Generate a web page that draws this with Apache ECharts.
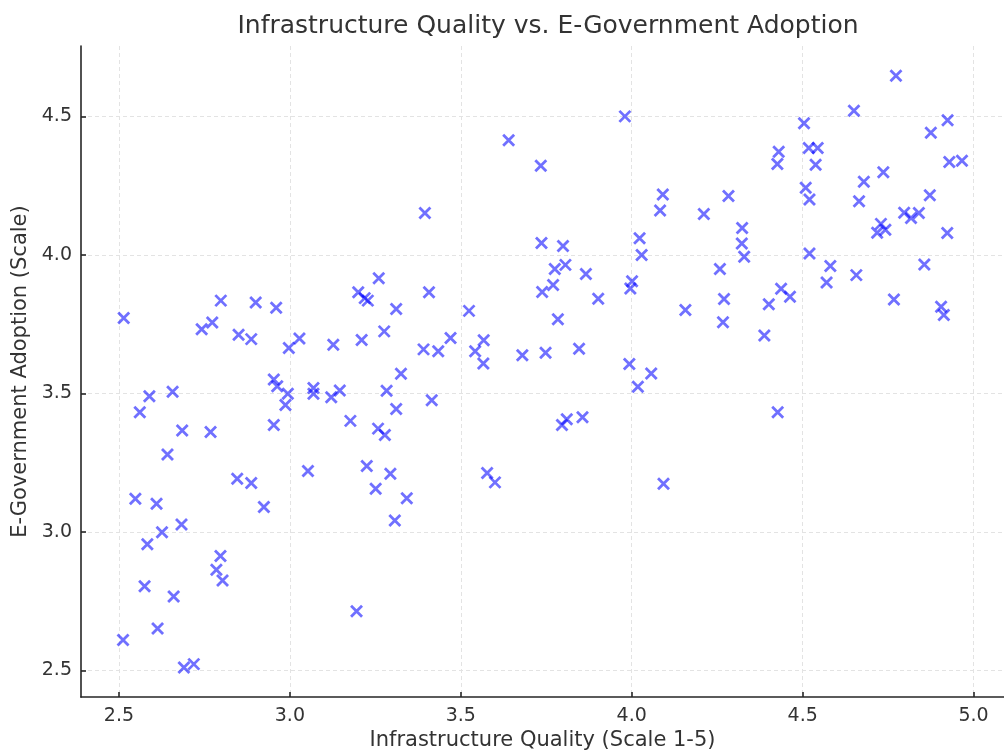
<!DOCTYPE html>
<html>
<head>
<meta charset="utf-8">
<title>Infrastructure Quality vs. E-Government Adoption</title>
<script src="https://cdn.jsdelivr.net/npm/echarts@6/dist/echarts.min.js"></script>
<style>
  html, body { margin: 0; padding: 0; background: #fff; }
  #chart { width: 1004px; height: 756px; }
</style>
</head>
<body>
<div id="chart"></div>
<script>
// values
var infraQuality = [
  2.514, 2.742, 2.773, 2.798, 2.850, 2.887, 2.900, 2.960, 2.997, 3.028,
  3.127, 3.200, 3.219, 3.228, 3.260, 3.311, 3.210, 3.276, 3.407, 3.524,
  3.567, 3.542, 3.566, 3.391, 3.434, 3.470, 3.680, 3.748, 3.738, 3.325,
  3.283, 3.311, 3.415, 3.177, 3.258, 3.278, 3.225, 3.294, 3.251, 3.342,
  3.307, 3.195, 3.577, 3.600, 2.953, 2.963, 2.994, 2.987, 3.069, 3.069,
  3.121, 3.146, 2.953, 3.053, 2.589, 2.657, 2.561, 2.685, 2.768, 2.642,
  2.846, 2.887, 2.924, 2.548, 2.610, 2.626, 2.683, 2.583, 2.797, 2.785,
  2.803, 2.575, 2.660, 2.613, 2.512, 2.690, 2.719,
  4.773, 4.650, 4.924, 4.875, 4.504, 3.980, 3.734, 4.430, 4.426, 4.518,
  4.544, 4.538, 4.929, 4.966, 4.736, 4.679, 4.509, 4.520, 4.665, 4.872,
  4.091, 4.083, 4.283, 4.211, 4.797, 4.817, 4.840, 4.729, 4.718, 4.742,
  4.923, 4.323, 4.322, 4.329, 4.520, 4.581, 4.570, 4.657, 4.856, 4.767,
  4.905, 4.913, 4.258, 4.270, 4.267, 4.437, 4.463, 4.401, 4.388, 4.157,
  4.023, 4.029, 4.001, 3.996, 3.993, 4.057, 3.736, 3.799, 3.775, 3.806,
  3.770, 3.866, 3.902, 3.784, 3.846,
  3.796, 3.810, 3.856, 4.018, 4.427, 4.093,
  3.640, 3.395
];
var eGovAdoption = [
  3.772, 3.732, 3.756, 3.835, 3.712, 3.696, 3.828, 3.809, 3.664, 3.698,
  3.676, 3.865, 3.844, 3.835, 3.916, 3.805, 3.693, 3.724, 3.865, 3.798,
  3.692, 3.652, 3.608, 3.659, 3.652, 3.700, 3.638, 3.647, 3.866, 3.571,
  3.510, 3.444, 3.475, 3.401, 3.373, 3.350, 3.238, 3.210, 3.156, 3.122,
  3.041, 2.714, 3.213, 3.179, 3.550, 3.526, 3.499, 3.458, 3.520, 3.499,
  3.486, 3.511, 3.386, 3.220, 3.490, 3.506, 3.432, 3.366, 3.361, 3.280,
  3.192, 3.177, 3.090, 3.120, 3.102, 2.999, 3.027, 2.956, 2.913, 2.864,
  2.825, 2.804, 2.767, 2.652, 2.610, 2.511, 2.523,
  4.647, 4.520, 4.486, 4.441, 4.475, 4.500, 4.322, 4.372, 4.328, 4.386,
  4.386, 4.325, 4.335, 4.340, 4.298, 4.264, 4.242, 4.200, 4.194, 4.215,
  4.218, 4.160, 4.213, 4.148, 4.152, 4.133, 4.151, 4.112, 4.080, 4.091,
  4.079, 4.097, 4.041, 3.993, 4.005, 3.960, 3.900, 3.927, 3.965, 3.839,
  3.813, 3.783, 3.949, 3.841, 3.757, 3.878, 3.849, 3.822, 3.709, 3.801,
  4.060, 4.000, 3.905, 3.879, 3.606, 3.572, 4.043, 4.032, 3.949, 3.964,
  3.891, 3.931, 3.842, 3.768, 3.661,
  3.386, 3.407, 3.414, 3.524, 3.432, 3.174,
  4.414, 4.151
];
var xTicks = [2.5, 3.0, 3.5, 4.0, 4.5, 5.0];
var yTicks = [2.5, 3.0, 3.5, 4.0, 4.5];

var points = [];
for (var i = 0; i < infraQuality.length; i++) {
  points.push([infraQuality[i], eGovAdoption[i]]);
}

var font = 'DejaVu Sans';
var inkColor = '#333333';

var myChart = echarts.init(document.getElementById('chart'), null, { renderer: 'canvas' });

var option = {
  backgroundColor: '#ffffff',
  animation: false,
  title: {
    text: 'Infrastructure Quality vs. E-Government Adoption',
    left: 543,
    top: 9,
    textAlign: 'center',
    textStyle: { fontFamily: font, fontSize: 25, fontWeight: 'normal', color: inkColor }
  },
  grid: { left: 81, top: 46, width: 933, height: 654, containLabel: false },
  xAxis: {
    type: 'value',
    min: 2.389,
    max: 5.089,
    name: 'Infrastructure Quality (Scale 1-5)',
    nameLocation: 'middle',
    nameGap: 32,
    nameTextStyle: { fontFamily: font, fontSize: 21, color: inkColor },
    axisLine: { show: true, onZero: false, lineStyle: { color: '#262626', width: 1.6 } },
    axisTick: { show: true, inside: true, length: 5, customValues: xTicks, lineStyle: { color: '#262626', width: 1.6 } },
    axisLabel: {
      customValues: xTicks,
      margin: 9,
      fontFamily: font, fontSize: 19, color: inkColor,
      formatter: function (v) { return v.toFixed(1); }
    },
    splitLine: { show: true, lineStyle: { color: '#e3e3e3', width: 1, type: [4, 3] } }
  },
  yAxis: {
    type: 'value',
    min: 2.404,
    max: 4.754,
    name: 'E-Government Adoption (Scale)',
    nameLocation: 'middle',
    nameGap: 45,
    nameTextStyle: { fontFamily: font, fontSize: 21, color: inkColor },
    axisLine: { show: true, onZero: false, lineStyle: { color: '#262626', width: 1.6 } },
    axisTick: { show: true, inside: true, length: 5, customValues: yTicks, lineStyle: { color: '#262626', width: 1.6 } },
    axisLabel: {
      customValues: yTicks,
      margin: 9,
      fontFamily: font, fontSize: 19, color: inkColor,
      formatter: function (v) { return v.toFixed(1); }
    },
    splitLine: { show: true, lineStyle: { color: '#e3e3e3', width: 1, type: [4, 3] } }
  },
  series: [{
    type: 'scatter',
    data: points,
    symbol: 'path://M0,0L10,10M10,0L0,10',
    symbolSize: 11,
    itemStyle: {
      color: 'rgba(0,0,0,0)',
      borderColor: 'rgba(0,0,255,0.7)',
      borderWidth: 2.8
    },
    emphasis: { disabled: true }
  }]
};

myChart.setOption(option);
</script>
</body>
</html>
